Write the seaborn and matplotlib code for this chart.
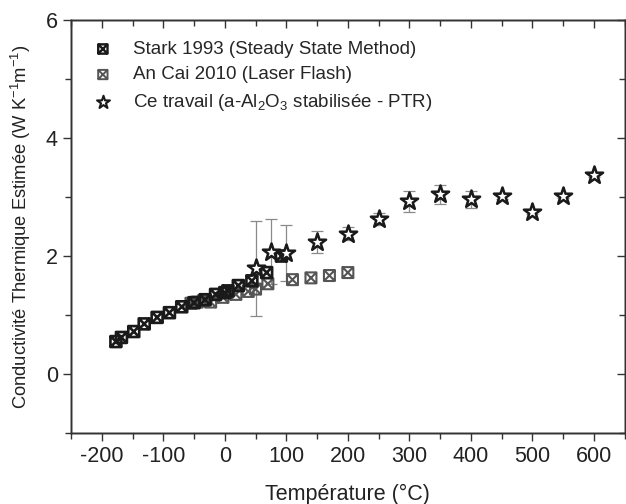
import numpy as np
import matplotlib
matplotlib.use('Agg')
import matplotlib.pyplot as plt
from matplotlib.path import Path
from matplotlib.ticker import MultipleLocator
import seaborn as sns

# Data
stark_T = [-177, -168, -148, -131, -110, -90, -70, -50, -32, -15, 0, 5, 22, 44, 68, 92]
stark_k = [0.55, 0.62, 0.72, 0.85, 0.96, 1.04, 1.14, 1.21, 1.26, 1.35, 1.38, 1.41, 1.50, 1.58, 1.72, 2.00]

cai_T = [-55, -45, -35, -23, -3, 18, 38, 50, 70, 110, 140, 170, 200]
cai_k = [1.20, 1.22, 1.24, 1.22, 1.30, 1.35, 1.40, 1.44, 1.53, 1.60, 1.63, 1.67, 1.72]

ptr_T = [50, 75, 100, 150, 200, 250, 300, 350, 400, 450, 500, 550, 600]
ptr_k = [1.79, 2.07, 2.05, 2.24, 2.38, 2.63, 2.93, 3.05, 2.96, 3.02, 2.75, 3.01, 3.37]
ptr_err = [0.80, 0.55, 0.47, 0.18, 0.11, 0.10, 0.18, 0.16, 0.14, 0.05, 0.03, 0.03, 0.03]

labels = ['Stark 1993 (Steady State Method)',
          'An Cai 2010 (Laser Flash)',
          'Ce travail (a-Al$_2$O$_3$ stabilisée - PTR)']

sns.set_style('ticks')
plt.rcParams['font.family'] = ['Liberation Sans', 'DejaVu Sans']
plt.rcParams['mathtext.fontset'] = 'custom'
plt.rcParams['mathtext.rm'] = 'Liberation Sans'
plt.rcParams['mathtext.default'] = 'regular'
plt.rcParams['axes.unicode_minus'] = False

# square with a cross inside
verts = [(-1, -1), (1, -1), (1, 1), (-1, 1), (-1, -1),
         (-1, -1), (1, 1), (-1, 1), (1, -1)]
codes = [Path.MOVETO, Path.LINETO, Path.LINETO, Path.LINETO, Path.CLOSEPOLY,
         Path.MOVETO, Path.LINETO, Path.MOVETO, Path.LINETO]
boxx = Path(verts, codes)

fig = plt.figure(figsize=(6.26, 5.04), dpi=100)
ax = fig.add_axes([0.1134, 0.1409, 0.8846, 0.8191])

ax.errorbar(ptr_T, ptr_k, yerr=ptr_err, fmt='none', ecolor='#8a8a8a',
            elinewidth=0.9, capsize=4, capthick=0.9, zorder=1)

sns.scatterplot(x=cai_T, y=cai_k, ax=ax, marker=boxx, s=62,
                facecolor='none', edgecolor='#555555', linewidth=1.5,
                label=labels[1], zorder=2)
sns.scatterplot(x=stark_T, y=stark_k, ax=ax, marker=boxx, s=62,
                facecolor='none', edgecolor='#1a1a1a', linewidth=1.9,
                label=labels[0], zorder=3)
sns.scatterplot(x=ptr_T, y=ptr_k, ax=ax, marker='*', s=170,
                facecolor='white', edgecolor='#1a1a1a', linewidth=1.8,
                label=labels[2], zorder=4)

ax.set_xlim(-250, 650)
ax.set_ylim(-1, 6)
ax.xaxis.set_major_locator(MultipleLocator(100))
ax.xaxis.set_minor_locator(MultipleLocator(50))
ax.yaxis.set_major_locator(MultipleLocator(2))
ax.yaxis.set_minor_locator(MultipleLocator(1))
ax.tick_params(which='both', direction='out', bottom=True, left=True,
               labelsize=15.5, color='#333333', labelcolor='#222222')
ax.tick_params(which='major', length=6, width=1)
ax.tick_params(which='minor', length=4, width=1)

handles, labs = ax.get_legend_handles_labels()
if ax.get_legend() is not None:
    ax.get_legend().remove()

# inward ticks on the top and right edges
tx = ax.twiny()
tx.set_xlim(ax.get_xlim())
tx.xaxis.set_major_locator(MultipleLocator(100))
tx.xaxis.set_minor_locator(MultipleLocator(50))
tx.tick_params(which='both', direction='in', top=True, bottom=False,
               labeltop=False, labelbottom=False, color='#333333', width=1)
tx.tick_params(which='major', length=6)
tx.tick_params(which='minor', length=4)

ty = ax.twinx()
ty.set_ylim(ax.get_ylim())
ty.yaxis.set_major_locator(MultipleLocator(2))
ty.yaxis.set_minor_locator(MultipleLocator(1))
ty.tick_params(which='both', direction='in', right=True, left=False,
               labelright=False, labelleft=False, color='#333333', width=1)
ty.tick_params(which='major', length=6)
ty.tick_params(which='minor', length=4)

for a in (ax, tx, ty):
    for sp in a.spines.values():
        sp.set_visible(True)
        sp.set_color('#333333')
        sp.set_linewidth(1.0)

ax.set_xlabel('Température (°C)', fontsize=15.5, labelpad=12, color='#222222')
ax.set_ylabel('Conductivité Thermique Estimée (W K$^{-1}$m$^{-1}$)', fontsize=13.2,
              labelpad=9, color='#222222')

order = [labs.index(l) for l in labels]
leg = ty.legend([handles[i] for i in order], [labs[i] for i in order],
                loc='upper left', frameon=False, fontsize=13.5,
                handlelength=1.2, handletextpad=1.0, labelspacing=0.45,
                borderaxespad=0.7, borderpad=0.4)
for h, size, lw in zip(leg.legend_handles, [45, 45, 95], [1.7, 1.4, 1.5]):
    h.set_sizes([size])
    h.set_linewidth(lw)

fig.savefig('out.png', dpi=100)
